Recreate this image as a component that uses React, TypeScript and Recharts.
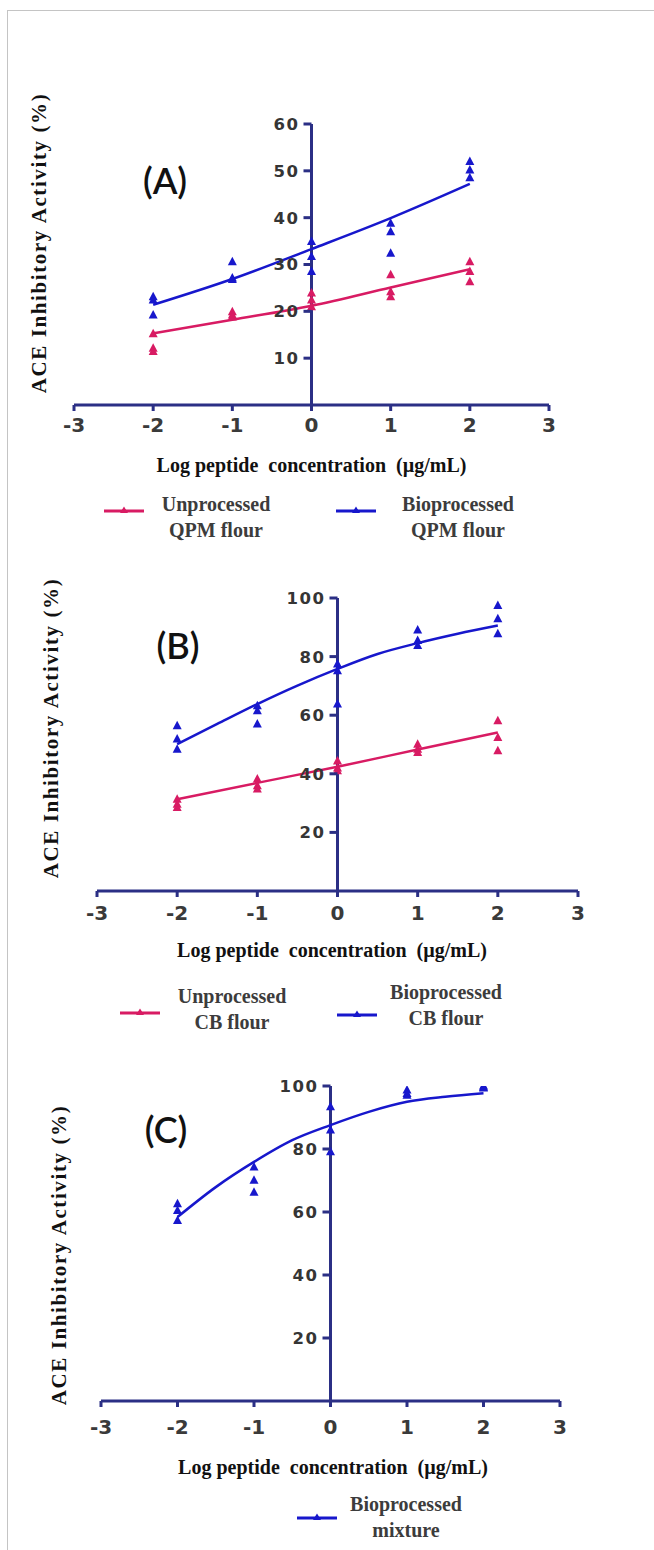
import React from 'react';
import { ComposedChart, Scatter, Line, XAxis, YAxis, ReferenceLine, Legend } from 'recharts';

// ---------- data ----------
const logConc = [-2, -1, 0, 1, 2];
const fitX = [-2, -1.5, -1, -0.5, 0, 0.5, 1, 1.5, 2];
const xTicks = [-3, -2, -1, 0, 1, 2, 3];
const yTicksA = [10, 20, 30, 40, 50, 60];
const yTicks100 = [20, 40, 60, 80, 100];

// replicate measurements at each log concentration
const unprocessedQPM = [[15.2, 12.1, 11.4], [19.9, 19.2, 18.8], [23.9, 22.4, 21.0], [27.8, 24.2, 23.1], [30.6, 28.5, 26.3]];
const bioprocessedQPM = [[23.1, 22.4, 19.2], [30.6, 27.1, 26.8], [34.9, 31.7, 28.5], [38.8, 37.0, 32.4], [52.0, 50.2, 48.5]];
const fitUnprocessedQPM = [15.3, 18.2, 21.2, 25.1, 29.0];
const fitBioprocessedQPM = [21.4, 26.9, 33.3, 39.9, 47.2];

const unprocessedCB = [[31.3, 29.6, 28.5], [38.2, 35.9, 34.8], [44.4, 42.0, 41.0], [50.1, 48.4, 47.3], [58.1, 52.4, 47.9]];
const bioprocessedCB = [[56.4, 51.9, 48.4], [63.2, 61.5, 57.0], [77.5, 75.2, 63.8], [89.1, 85.5, 83.8], [97.4, 92.9, 87.8]];
const fitUnprocessedCB = [31.3, 36.9, 42.4, 48.3, 54.1];
const fitBioprocessedCB = [50.1, 57.0, 63.8, 70.1, 75.8, 80.9, 84.6, 87.8, 90.6];

const bioprocessedMix = [[62.6, 60.5, 57.3], [74.3, 70.1, 66.3], [93.4, 86.0, 79.1], [98.7, 97.6, 97.1], [100, 99.6, 99.4]];
const fitBioprocessedMix = [58.4, 67.9, 75.9, 82.8, 87.6, 91.8, 95.0, 96.6, 97.7];

const legendA = [['Unprocessed', 'QPM flour'], ['Bioprocessed', 'QPM flour']];
const legendB = [['Unprocessed', 'CB flour'], ['Bioprocessed', 'CB flour']];
const legendC = [['Bioprocessed', 'mixture']];

// ---------- helpers ----------
const toPoints = (reps: number[][]) =>
  reps.flatMap((vals, i) => vals.map((v) => ({ x: logConc[i], y: v })));
const toLine = (xs: number[], ys: number[]) => xs.map((x, i) => ({ x, y: ys[i] }));

const AXIS = '#2b2f85';
const PINK = '#d81b63';
const BLUE = '#1717cc';
const W = 654;

const Triangle = (props: any) => {
  const { cx, cy, fill } = props;
  if (cx == null || cy == null) return null;
  return <polygon points={`${cx},${cy - 5} ${cx - 4.5},${cy + 3.5} ${cx + 4.5},${cy + 3.5}`} fill={fill} />;
};

type Series = { points: { x: number; y: number }[]; fit: { x: number; y: number }[]; color: string; name: string };
type LegendItem = { color: string; lines: string[]; lx: number; ly: number; tx: number; ty: number };

type PanelProps = {
  top: number;
  height: number;
  margin: { top: number; right: number; bottom: number; left: number };
  yMax: number;
  yTicks: number[];
  series: Series[];
  legend: LegendItem[];
  letter: string;
  letterPos: [number, number];
  xLabelY: number;
  xLabelX?: number;
  yLabelPos: [number, number];
  tickMargin: number;
};

const Panel = (p: PanelProps) => {
  const plotLeft = p.margin.left + 1;
  const plotWidth = W - p.margin.left - 1 - p.margin.right;
  const zeroX = plotLeft + plotWidth / 2;

  const yTick = (props: any) => {
    const { y, payload } = props;
    return (
      <g>
        <line x1={zeroX - 8} x2={zeroX} y1={y} y2={y} stroke={AXIS} strokeWidth={3} />
        <text
          x={zeroX - 12}
          y={y}
          dy="0.36em"
          textAnchor="end"
          fontFamily="DejaVu Sans"
          fontWeight="bold"
          fontSize={16.5}
          letterSpacing={1.5}
          fill="#353535"
        >
          {payload.value}
        </text>
      </g>
    );
  };

  const legendContent = () => (
    <div style={{ position: 'relative', width: W, height: 0 }}>
      {p.legend.map((it, i) => (
        <React.Fragment key={i}>
          <svg
            style={{ position: 'absolute', left: it.lx, top: it.ly - 6 }}
            width={42}
            height={12}
          >
            <line x1={0} x2={40} y1={6} y2={6} stroke={it.color} strokeWidth={3} />
            <polygon points="20,1.5 16,8 24,8" fill={it.color} />
          </svg>
          <div
            style={{
              position: 'absolute',
              left: it.tx - 100,
              top: it.ty - 13,
              width: 200,
              textAlign: 'center',
              fontFamily: '"Liberation Serif", serif',
              fontWeight: 'bold',
              fontSize: 20,
              lineHeight: '26px',
              color: '#3c3c3c',
              whiteSpace: 'nowrap',
            }}
          >
            {it.lines.map((l, j) => (
              <div key={j}>{l}</div>
            ))}
          </div>
        </React.Fragment>
      ))}
    </div>
  );

  return (
    <div style={{ position: 'absolute', left: 0, top: p.top, width: W, height: p.height }}>
      <ComposedChart width={W} height={p.height} margin={p.margin}>
        <XAxis
          type="number"
          dataKey="x"
          domain={[-3, 3]}
          ticks={xTicks}
          allowDataOverflow
          interval={0}
          axisLine={{ stroke: AXIS, strokeWidth: 3 }}
          tickLine={{ stroke: AXIS, strokeWidth: 3 }}
          tickSize={6}
          tickMargin={p.tickMargin}
          height={40}
          tick={{ fontFamily: 'DejaVu Sans', fontWeight: 'bold', fontSize: 20, fill: '#3a3a3a' }}
          label={{
            content: () => (
              <text
                x={p.xLabelX ?? zeroX}
                y={p.xLabelY}
                dy="0.35em"
                textAnchor="middle"
                fontFamily="Liberation Serif"
                fontWeight="bold"
                fontSize={20}
                fill="#111"
                style={{ whiteSpace: 'pre' }}
              >
                {'Log peptide  concentration  (µg/mL)'}
              </text>
            ),
          }}
        />
        <YAxis
          type="number"
          dataKey="y"
          width={1}
          domain={[0, p.yMax]}
          ticks={p.yTicks}
          allowDataOverflow
          interval={0}
          axisLine={false}
          tickLine={false}
          tick={yTick}
          label={{
            content: () => (
              <text
                x={p.yLabelPos[0]}
                y={p.yLabelPos[1]}
                transform={`rotate(-90 ${p.yLabelPos[0]} ${p.yLabelPos[1]})`}
                dy="0.35em"
                textAnchor="middle"
                fontFamily="Liberation Serif"
                fontWeight="bold"
                fontSize={21}
                letterSpacing={1.6}
                fill="#111"
              >
                ACE Inhibitory Activity (%)
              </text>
            ),
          }}
        />
        <ReferenceLine x={0} stroke={AXIS} strokeWidth={3} />
        {p.series.map((s) => (
          <Line
            key={s.name + '-fit'}
            data={s.fit}
            dataKey="y"
            type="monotone"
            stroke={s.color}
            strokeWidth={2.5}
            dot={false}
            activeDot={false}
            isAnimationActive={false}
            legendType="none"
          />
        ))}
        {p.series.map((s) => (
          <Scatter
            key={s.name}
            name={s.name}
            data={s.points}
            dataKey="y"
            fill={s.color}
            shape={<Triangle />}
            isAnimationActive={false}
          />
        ))}
        <Legend
          layout="horizontal"
          verticalAlign="middle"
          align="center"
          content={legendContent}
          wrapperStyle={{ left: 0, top: 0, width: W, height: 0 }}
        />
      </ComposedChart>
      <div
        style={{
          position: 'absolute',
          left: p.letterPos[0],
          top: p.letterPos[1],
          transform: 'translate(-50%, -50%)',
          fontFamily: 'Lato, sans-serif',
          fontSize: 36,
          fontWeight: 600,
          color: '#111',
          whiteSpace: 'nowrap',
        }}
      >
        {p.letter}
      </div>
    </div>
  );
};

export default function App() {
  return (
    <div style={{ position: 'absolute', left: 0, top: 0, width: W, height: 1550, background: '#fff' }}>
      <div
        style={{
          position: 'absolute',
          left: 7,
          top: 10,
          width: W - 7,
          height: 1540,
          borderLeft: '1px solid #c4c4c4',
          borderTop: '1px solid #c4c4c4',
        }}
      />
      <Panel
        top={0}
        height={560}
        margin={{ top: 124, right: 105, bottom: 115, left: 73 }}
        yMax={60}
        yTicks={yTicksA}
        series={[
          { name: 'Unprocessed QPM flour', color: PINK, points: toPoints(unprocessedQPM), fit: toLine(logConc, fitUnprocessedQPM) },
          { name: 'Bioprocessed QPM flour', color: BLUE, points: toPoints(bioprocessedQPM), fit: toLine(logConc, fitBioprocessedQPM) },
        ]}
        legend={[
          { color: PINK, lines: legendA[0], lx: 104, ly: 511, tx: 216, ty: 504 },
          { color: BLUE, lines: legendA[1], lx: 336, ly: 511, tx: 458, ty: 504 },
        ]}
        letter="(A)"
        letterPos={[165, 180]}
        xLabelY={465}
        yLabelPos={[39, 243]}
        tickMargin={7}
      />
      <Panel
        top={560}
        height={490}
        margin={{ top: 38, right: 76, bottom: 119, left: 96 }}
        yMax={100}
        yTicks={yTicks100}
        series={[
          { name: 'Unprocessed CB flour', color: PINK, points: toPoints(unprocessedCB), fit: toLine(logConc, fitUnprocessedCB) },
          { name: 'Bioprocessed CB flour', color: BLUE, points: toPoints(bioprocessedCB), fit: toLine(fitX, fitBioprocessedCB) },
        ]}
        legend={[
          { color: PINK, lines: legendB[0], lx: 120, ly: 453, tx: 232, ty: 436 },
          { color: BLUE, lines: legendB[1], lx: 337, ly: 455, tx: 446, ty: 432 },
        ]}
        letter="(B)"
        letterPos={[178, 645 - 560]}
        xLabelY={390}
        xLabelX={332}
        yLabelPos={[51, 168]}
        tickMargin={9}
      />
      <Panel
        top={1050}
        height={500}
        margin={{ top: 36, right: 94, bottom: 109, left: 100 }}
        yMax={100}
        yTicks={yTicks100}
        series={[
          { name: 'Bioprocessed mixture', color: BLUE, points: toPoints(bioprocessedMix), fit: toLine(fitX, fitBioprocessedMix) },
        ]}
        legend={[{ color: BLUE, lines: legendC[0], lx: 297, ly: 468, tx: 406, ty: 454 }]}
        letter="(C)"
        letterPos={[166, 1129 - 1050]}
        xLabelY={417}
        xLabelX={333}
        yLabelPos={[59, 205]}
        tickMargin={13}
      />
    </div>
  );
}
